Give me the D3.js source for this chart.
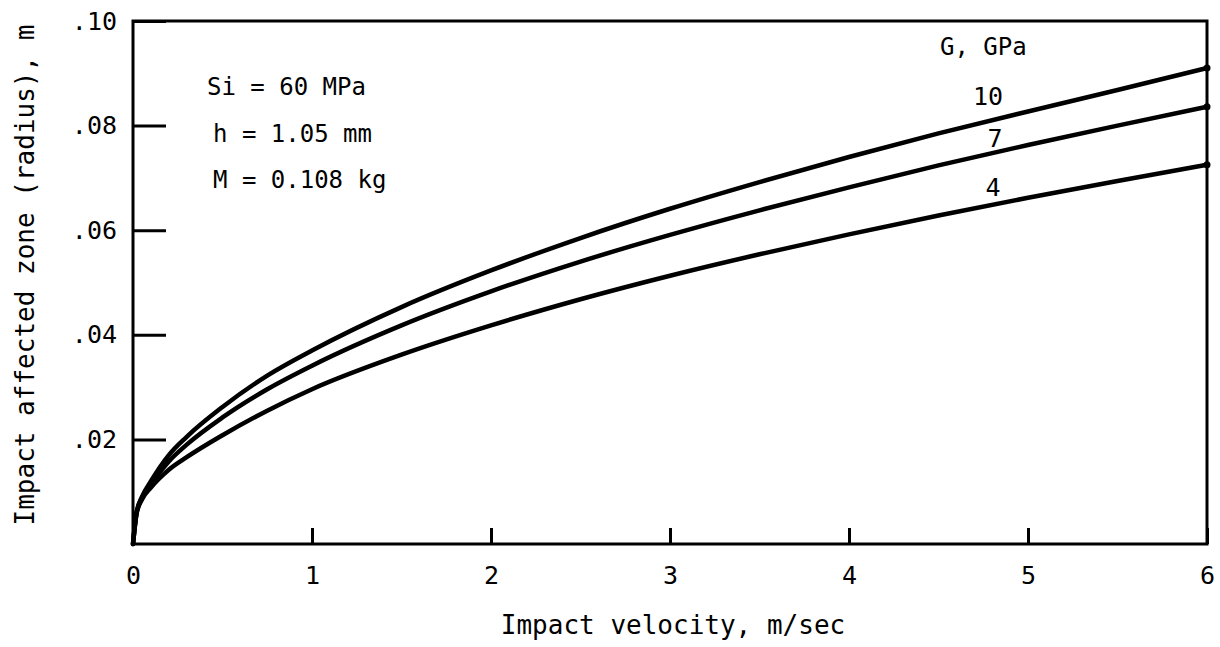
<!DOCTYPE html>
<html>
<head>
<meta charset="utf-8">
<script src="https://cdn.jsdelivr.net/npm/d3@7/dist/d3.min.js"></script>
<style>
  body { margin: 0; background: #fff; }
  text { font-family: 'DejaVu Sans Mono', 'Liberation Mono', monospace; fill: #000; }
</style>
</head>
<body>
<svg id="chart" width="1220" height="647"></svg>
<script>
// impact velocity, m/sec
const velocity = [0, 0.02, 0.05, 0.1, 0.2, 0.3, 0.5, 0.75, 1, 1.5, 2, 2.5, 3, 3.5, 4, 4.5, 5, 5.5, 6];
// radius of impact affected zone, m, one array per shear modulus G
const radiusG10 = [0, 0.0060, 0.0090, 0.0120, 0.0170, 0.0205, 0.0262, 0.0322, 0.0370, 0.0453, 0.0523, 0.0585, 0.0641, 0.0692, 0.0740, 0.0785, 0.0827, 0.0868, 0.0910];
const radiusG7  = [0, 0.0060, 0.0088, 0.0115, 0.0158, 0.0190, 0.0242, 0.0296, 0.0341, 0.0418, 0.0483, 0.0540, 0.0591, 0.0638, 0.0682, 0.0724, 0.0763, 0.0800, 0.0836];
const radiusG4  = [0, 0.0058, 0.0085, 0.0108, 0.0142, 0.0166, 0.0208, 0.0255, 0.0296, 0.0362, 0.0418, 0.0468, 0.0513, 0.0554, 0.0592, 0.0628, 0.0662, 0.0694, 0.0725];
const modulusLabels = ['10', '7', '4'];
const xTickValues = [0, 1, 2, 3, 4, 5, 6];
const yTickValues = [0.02, 0.04, 0.06, 0.08, 0.10];
const notes = ['Si = 60 MPa', 'h = 1.05 mm', 'M = 0.108 kg'];

const svg = d3.select('#chart');
const plotLeft = 133, plotRight = 1207, plotTop = 21, plotBottom = 544;

const x = d3.scaleLinear().domain([0, 6]).range([plotLeft, plotRight]);
const y = d3.scaleLinear().domain([0, 0.10]).range([plotBottom, plotTop]);

// frame
svg.append('rect')
  .attr('x', plotLeft).attr('y', plotTop)
  .attr('width', plotRight - plotLeft).attr('height', plotBottom - plotTop)
  .attr('fill', 'none').attr('stroke', '#000').attr('stroke-width', 3);

// inward ticks
const xAxis = svg.append('g')
  .attr('transform', `translate(0,${plotBottom})`)
  .call(d3.axisBottom(x).tickValues(xTickValues).tickSizeInner(-16).tickSizeOuter(0).tickPadding(22)
    .tickFormat(d3.format('d')));
const yAxis = svg.append('g')
  .attr('transform', `translate(${plotLeft},0)`)
  .call(d3.axisLeft(y).tickValues(yTickValues).tickSizeInner(-33).tickSizeOuter(0).tickPadding(16)
    .tickFormat(d => d3.format('.2f')(d).replace(/^0/, '')));

[xAxis, yAxis].forEach(a => {
  a.select('.domain').remove();
  a.selectAll('line').attr('stroke', '#000').attr('stroke-width', 3);
  a.selectAll('text').attr('font-size', 25).attr('font-family', null);
});

// curves
const line = d3.line()
  .x((d, i) => x(velocity[i]))
  .y(d => y(d))
  .curve(d3.curveMonotoneX);

const series = [radiusG10, radiusG7, radiusG4];
svg.append('g').selectAll('path').data(series).enter()
  .append('path')
  .attr('d', line)
  .attr('fill', 'none')
  .attr('stroke', '#000')
  .attr('stroke-width', 4.5)
  .attr('stroke-linecap', 'round');

svg.append('g').selectAll('circle').data(series).enter()
  .append('circle')
  .attr('cx', x(velocity[velocity.length - 1]))
  .attr('cy', d => y(d[d.length - 1]))
  .attr('r', 3.5)
  .attr('fill', '#000');

// curve labels
svg.append('text').attr('x', 940).attr('y', 55).attr('font-size', 24).text('G, GPa');
const labelPos = [[988, 105], [995, 147], [993, 196]];
svg.append('g').selectAll('text').data(modulusLabels).enter()
  .append('text')
  .attr('x', (d, i) => labelPos[i][0])
  .attr('y', (d, i) => labelPos[i][1])
  .attr('text-anchor', 'middle')
  .attr('font-size', 25)
  .text(d => d);

// parameter notes
const noteY = [95, 142, 188];
const noteX = [207, 213, 213];
svg.append('g').selectAll('text').data(notes).enter()
  .append('text')
  .attr('x', (d, i) => noteX[i])
  .attr('y', (d, i) => noteY[i])
  .attr('font-size', 24)
  .text(d => d);

// axis titles
svg.append('text')
  .attr('x', (plotLeft + plotRight) / 2 + 3).attr('y', 634)
  .attr('text-anchor', 'middle')
  .attr('font-size', 26)
  .text('Impact velocity, m/sec');

svg.append('text')
  .attr('transform', `translate(34,275) rotate(-90)`)
  .attr('text-anchor', 'middle')
  .attr('font-size', 26)
  .text('Impact affected zone (radius), m');
</script>
</body>
</html>
